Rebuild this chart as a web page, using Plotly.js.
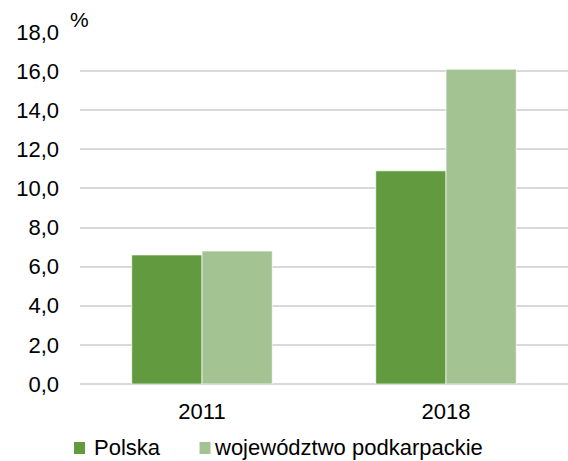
<!DOCTYPE html>
<html>
<head>
<meta charset="utf-8">
<script src="https://cdn.plot.ly/plotly-3.0.1.min.js"></script>
<style>html,body{margin:0;padding:0;background:#fff;}#chart{width:568px;height:461px;}</style>
</head>
<body>
<div id="chart"></div>
<script>
const categories = ["2011", "2018"];
const polska = [6.6, 10.9];
const podkarpackie = [6.8, 16.1];
const seriesNames = ["Polska", "województwo podkarpackie"];
const seriesColors = ["#629a3f", "#a3c492"];
const yTicks = [0, 2, 4, 6, 8, 10, 12, 14, 16, 18];

const font = {family: "Liberation Sans, Arial, sans-serif", size: 22, color: "#000"};

const traces = [
  {type: "bar", name: seriesNames[0], x: categories, y: polska,
   marker: {color: seriesColors[0], line: {color: "rgba(255,255,255,0.7)", width: 1}}},
  {type: "bar", name: seriesNames[1], x: categories, y: podkarpackie,
   marker: {color: seriesColors[1], line: {color: "rgba(255,255,255,0.7)", width: 1}}}
];

// custom legend (positions in paper coordinates)
const legendMarkers = [[-0.0123, 0.0102], [0.2449, 0.2674]];
const legendTextX = [0.024, 0.271];
const shapes = legendMarkers.map((m, i) => ({
  type: "rect", xref: "paper", yref: "paper", x0: m[0], x1: m[1], y0: -0.1989, y1: -0.1648,
  fillcolor: seriesColors[i], line: {width: 0}
}));
const annotations = seriesNames.map((n, i) => ({
  text: n, xref: "paper", yref: "paper", x: legendTextX[i], y: -0.1818,
  xanchor: "left", yanchor: "middle", showarrow: false, font: font
}));
annotations.push({text: "%", xref: "paper", yref: "paper", x: -0.002, y: 1.035,
                  xanchor: "center", yanchor: "middle", showarrow: false,
                  font: {family: font.family, size: 21, color: "#000"}});

const layout = {
  width: 568, height: 461,
  margin: {l: 80, r: 0, t: 32, b: 77, pad: 0, autoexpand: false},
  paper_bgcolor: "#fff", plot_bgcolor: "#fff",
  font: font,
  separators: ", ",
  barmode: "group", bargap: 0.424, bargroupgap: 0,
  xaxis: {type: "category", showgrid: false, showline: false, zeroline: false,
          ticks: "", ticklabelstandoff: 12, tickfont: font, fixedrange: true, automargin: false},
  yaxis: {range: [0, 18], tickvals: yTicks, tickformat: ".1f", showgrid: true,
          gridcolor: "#d9d9d9", gridwidth: 2, zeroline: true, zerolinecolor: "#d9d9d9",
          zerolinewidth: 2, showline: false, ticks: "", ticklabelstandoff: 20,
          tickfont: font, fixedrange: true, automargin: false},
  showlegend: false,
  shapes: shapes,
  annotations: annotations
};

Plotly.newPlot("chart", traces, layout, {displayModeBar: false, staticPlot: true});
</script>
</body>
</html>
